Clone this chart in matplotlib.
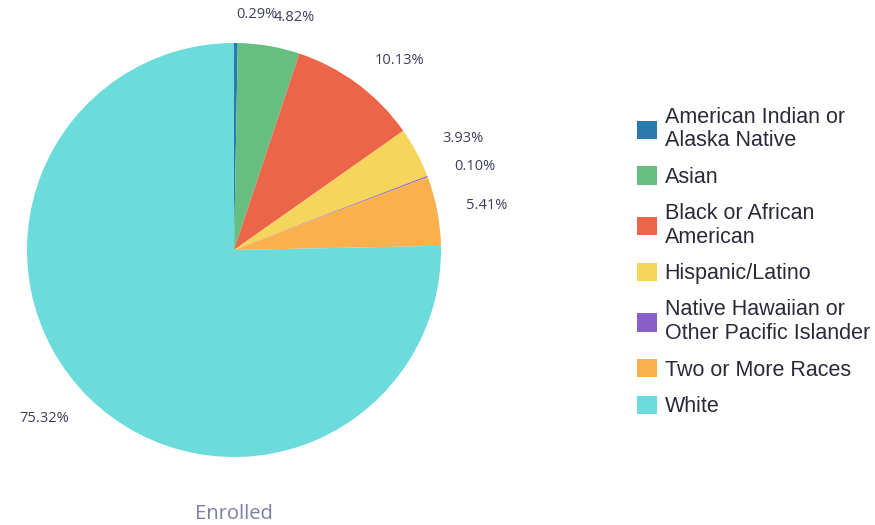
import matplotlib.pyplot as plt
import numpy as np

# Data
categories = ['American Indian or\nAlaska Native', 'Asian', 'Black or African\nAmerican',
              'Hispanic/Latino', 'Native Hawaiian or\nOther Pacific Islander',
              'Two or More Races', 'White']
percentages = [0.29, 4.82, 10.13, 3.93, 0.10, 5.41, 75.32]
colors = ['#2a7ab0', '#66bf80', '#ec6548', '#f6d55c', '#8a60c8', '#fbb04e', '#6bdbdb']

fig = plt.figure(figsize=(8.75, 5.25), dpi=100)
ax = fig.add_axes([27 / 875, 68 / 525, 414 / 875, 414 / 525])

wedges, texts, autotexts = ax.pie(percentages, colors=colors, startangle=90, counterclock=False,
                                  autopct='%.2f%%', pctdistance=1.14, radius=1.0,
                                  wedgeprops=dict(linewidth=0))
ax.set_xlim(-1, 1)
ax.set_ylim(-1, 1)

# Labels outside, aligned away from the pie
for t in autotexts:
    x, y = t.get_position()
    t.set_ha('left' if x >= 0 else 'right')
    t.set_fontsize(10.5)
    t.set_family('Open Sans')
    t.set_color('#3b3f5c')

fig.text(234 / 875, 1 - 514 / 525, 'Enrolled', ha='center', va='center',
         fontsize=14.5, family='Open Sans', color='#7b7fa0')

leg = fig.legend(wedges, categories, loc='upper left', bbox_to_anchor=(637 / 875, 1 - 107 / 525),
                 frameon=False, borderpad=0, borderaxespad=0, labelspacing=0.7,
                 handlelength=0.95, handleheight=0.95, handletextpad=0.33,
                 prop={'family': 'Liberation Sans', 'size': 15.5}, labelcolor='#2a2a3a')
for t in leg.get_texts():
    t.set_linespacing(1.15)

plt.savefig('out.png', dpi=100)
